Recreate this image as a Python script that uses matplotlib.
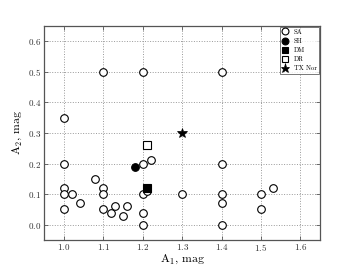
import matplotlib
matplotlib.use('Agg')
import matplotlib.pyplot as plt

plt.rcParams['font.family'] = 'cmr10'
plt.rcParams['mathtext.fontset'] = 'cm'
plt.rcParams['axes.formatter.use_mathtext'] = True

sa_x = [1.0, 1.1, 1.2, 1.4, 1.0, 1.0, 1.0, 1.02, 1.0, 1.04, 1.08, 1.1, 1.1, 1.1,
        1.12, 1.13, 1.15, 1.16, 1.2, 1.22, 1.2, 1.21, 1.2, 1.2, 1.3, 1.4, 1.4,
        1.4, 1.4, 1.5, 1.5, 1.53]
sa_y = [0.35, 0.5, 0.5, 0.5, 0.2, 0.12, 0.1, 0.1, 0.05, 0.07, 0.15, 0.12, 0.1, 0.05,
        0.04, 0.06, 0.03, 0.06, 0.2, 0.21, 0.1, 0.11, 0.04, 0.0, 0.1, 0.2, 0.1,
        0.07, 0.0, 0.1, 0.05, 0.12]
sh_x, sh_y = [1.18], [0.19]
dm_x, dm_y = [1.21], [0.12]
dr_x, dr_y = [1.21], [0.26]
tx_x, tx_y = [1.3], [0.3]

fig = plt.figure(figsize=(3.56, 2.67), dpi=100)
ax = fig.add_axes([0.124, 0.101, 0.775, 0.802])

ms = 5.5
ax.plot(sa_x, sa_y, 'o', mfc='white', mec='black', ms=ms, mew=0.8, label='SA')
ax.plot(sh_x, sh_y, 'o', mfc='black', mec='black', ms=ms, mew=0.8, label='SH')
ax.plot(dm_x, dm_y, 's', mfc='black', mec='black', ms=ms, mew=0.8, label='DM')
ax.plot(dr_x, dr_y, 's', mfc='white', mec='black', ms=ms, mew=0.8, label='DR')
ax.plot(tx_x, tx_y, '*', mfc='black', mec='black', ms=7.5, mew=0.5, label='TX Nor')

ax.set_xlim(0.95, 1.65)
ax.set_ylim(-0.05, 0.65)
ax.set_xticks([1.0, 1.1, 1.2, 1.3, 1.4, 1.5, 1.6])
ax.set_yticks([0.0, 0.1, 0.2, 0.3, 0.4, 0.5, 0.6])
ax.tick_params(labelsize=6.5, colors='#555555', labelcolor='#333333', length=3,
               width=0.6, direction='in', top=True, right=True, pad=2)
ax.tick_params(axis='x', pad=1.2)
ax.grid(True, linestyle=':', color='#999999', linewidth=0.7)
for s in ax.spines.values():
    s.set_color('#555555')
    s.set_linewidth(0.9)

ax.set_xlabel(r'A$_1$, mag', fontsize=8.5, labelpad=0)
ax.set_ylabel(r'A$_2$, mag', fontsize=8.5, labelpad=3)

leg = ax.legend(loc='upper right', fontsize=4.8, numpoints=1, fancybox=False,
                borderaxespad=0.1, handletextpad=0.9, labelspacing=0.5,
                handlelength=0.8, borderpad=0.35, markerscale=0.9)
leg.get_frame().set_edgecolor('#555555')
leg.get_frame().set_linewidth(0.7)

fig.savefig('out.png', dpi=100)
